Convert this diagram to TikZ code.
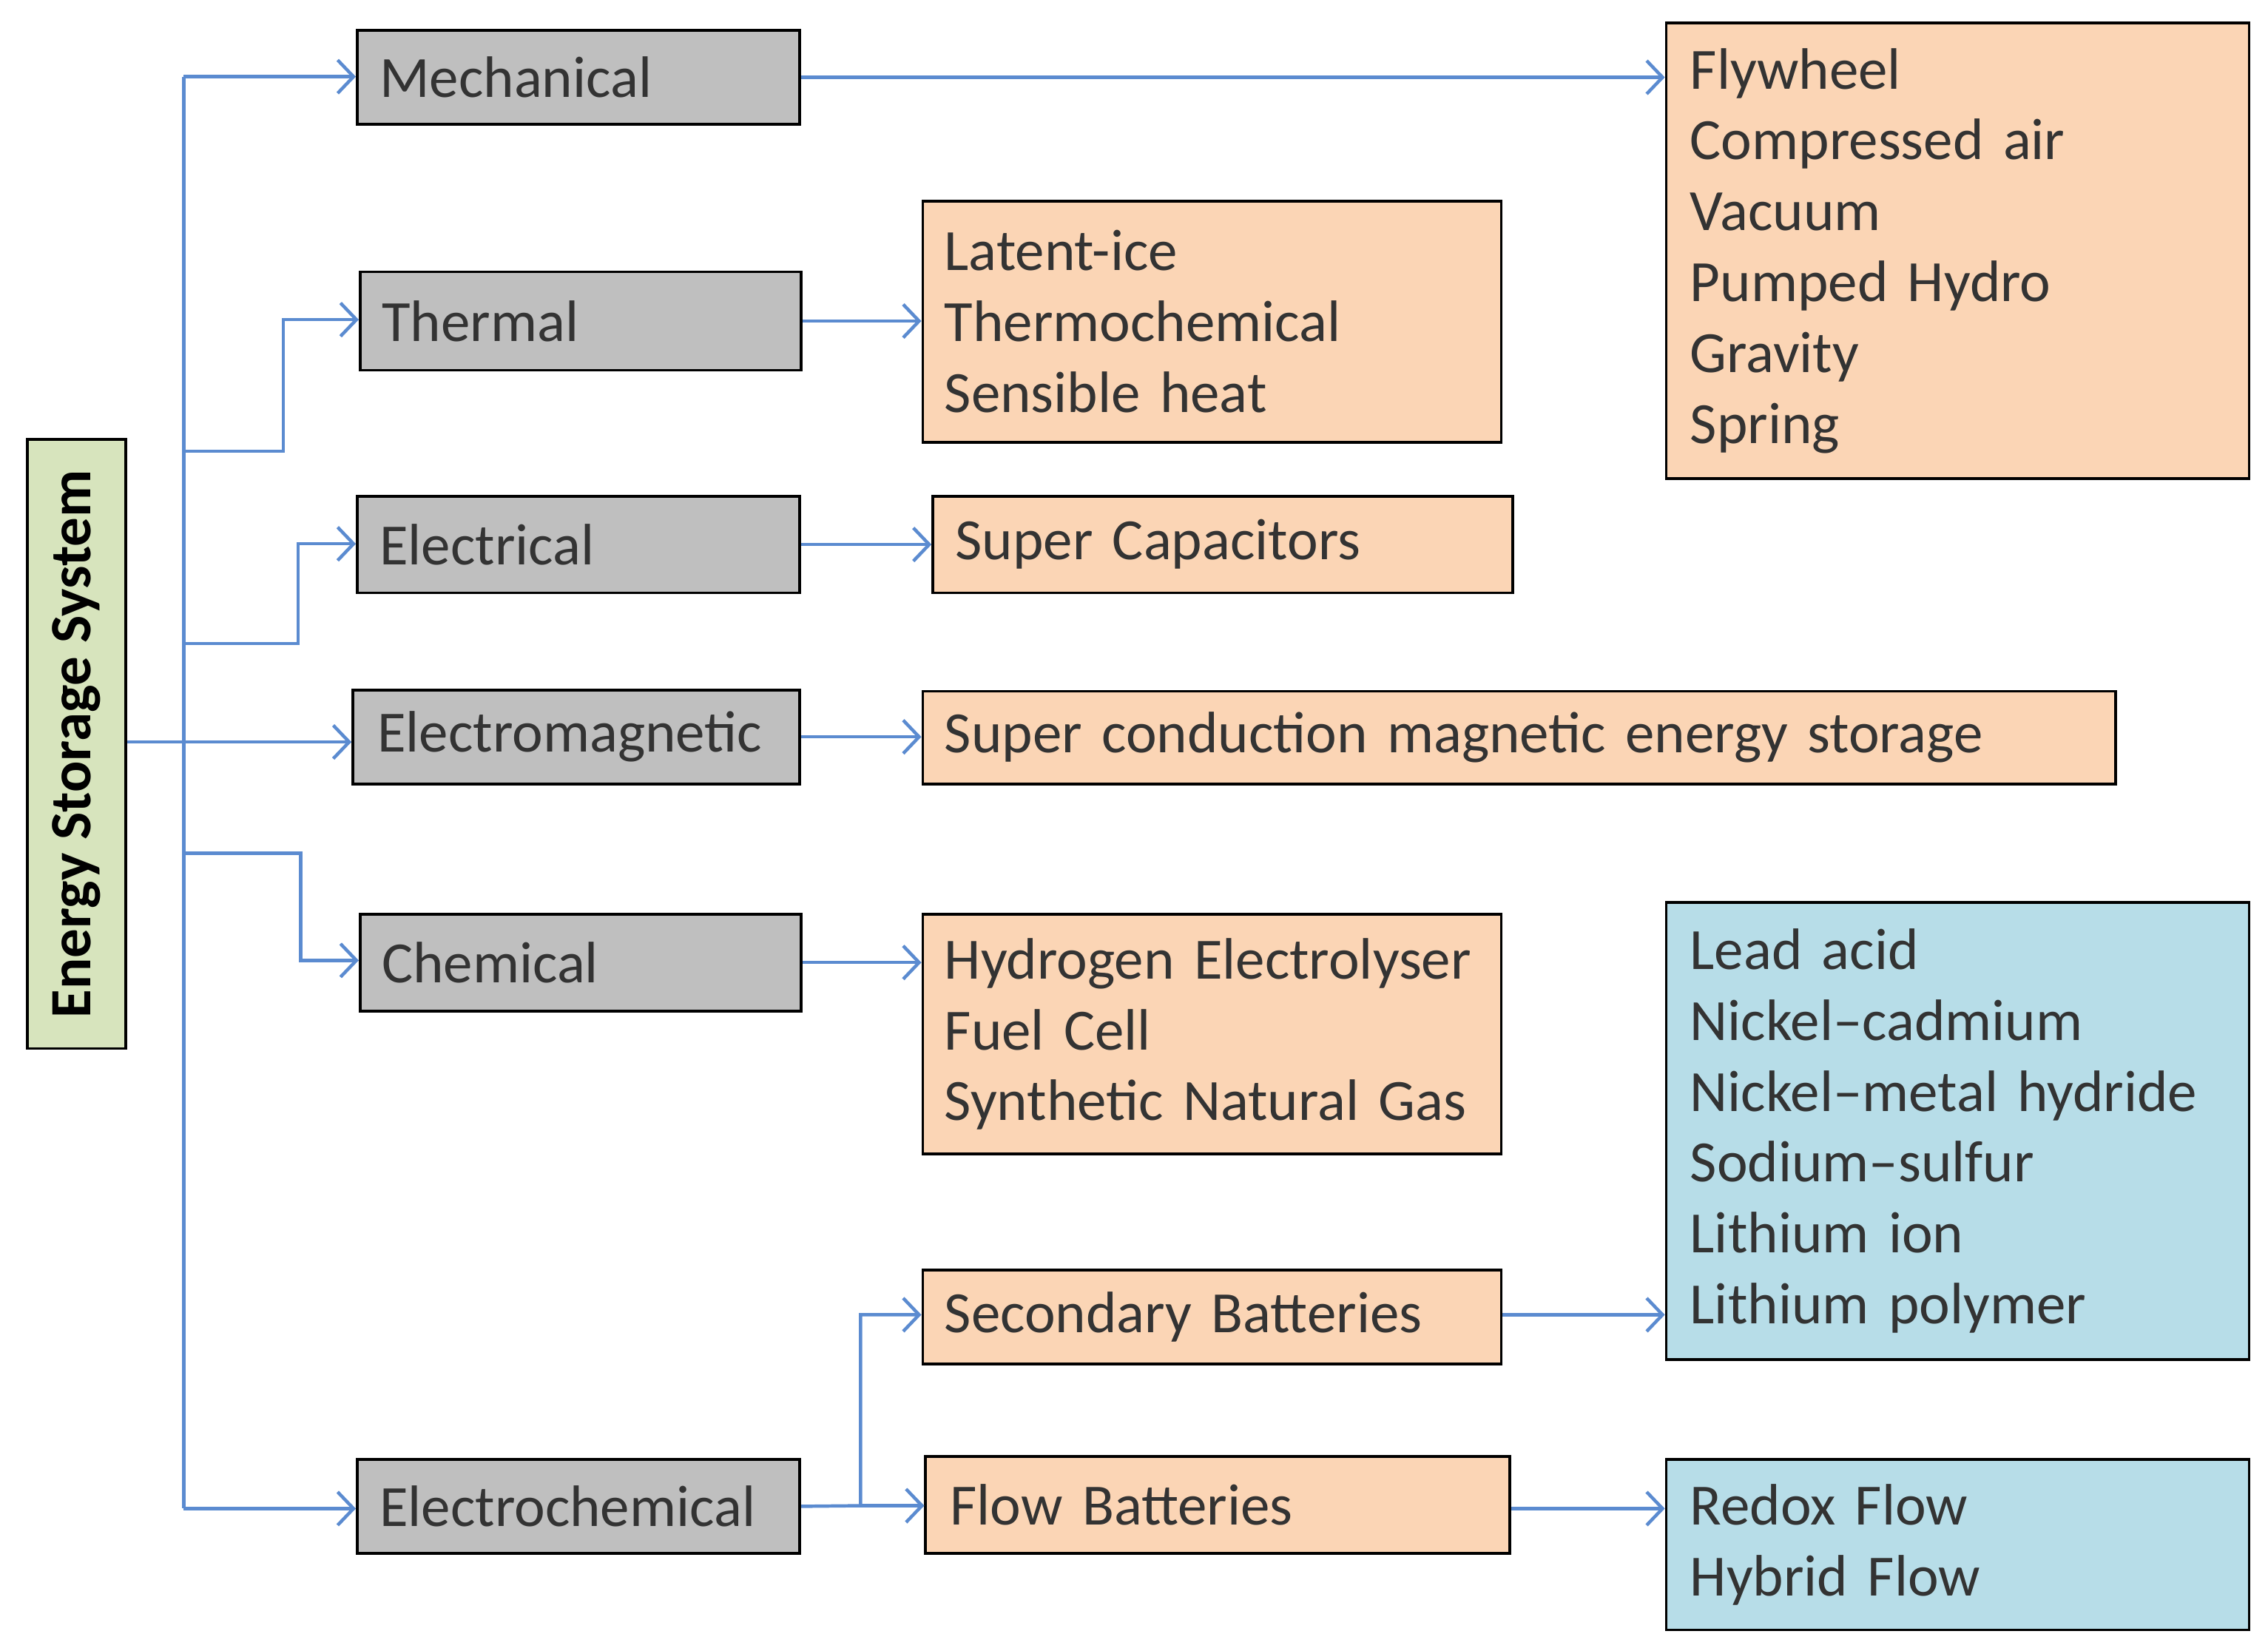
\documentclass[tikz,border=0pt]{standalone}
\usepackage{fontspec}
\setmainfont{Carlito}
\usetikzlibrary{calc,arrows.meta}
\definecolor{boxgray}{HTML}{BFBFBF}
\definecolor{boxorange}{HTML}{FBD5B5}
\definecolor{boxblue}{HTML}{B7DDE8}
\definecolor{boxgreen}{HTML}{D7E4BD}
\definecolor{linkblue}{HTML}{5B8BD0}
\definecolor{txt}{HTML}{333333}
\tikzset{
	box/.style={draw=black, line width=1.1pt, anchor=north west, inner xsep=0.3cm, inner ysep=0pt,
		align=left, text=txt, font=\fontsize{23}{27.9}\selectfont},
	link/.style={draw=linkblue, line width=1.3pt, -{Straight Barb[length=2.2mm,width=4.6mm]}}
}
\begin{document}
\hyphenpenalty=10000\relax
\begin{tikzpicture}[x=0.02cm,y=-0.02cm]

	% frame
	\useasboundingbox (0,0) rectangle (1568,1141);

	% root
	\node[box, fill=boxgreen, minimum width=1.36cm, minimum height=8.42cm, inner xsep=0pt] (ess) at (18,303) {};
	\node[rotate=90, font=\fontsize{23}{27.9}\selectfont\bfseries, text=black] (esslabel) at (ess.center) {Energy Storage System};

	% categories
	\node[box, fill=boxgray, minimum width=6.12cm, minimum height=1.30cm, text width=5.5cm] (mech) at (246,20) {Mechanical};
	\node[box, fill=boxgray, minimum width=6.08cm, minimum height=1.36cm, text width=5.5cm] (therm) at (248,187) {Thermal};
	\node[box, fill=boxgray, minimum width=6.12cm, minimum height=1.34cm, text width=5.5cm] (elec) at (246,342) {Electrical};
	\node[box, fill=boxgray, minimum width=6.18cm, minimum height=1.30cm, text width=5.5cm] (emag) at (243,476) {Electromagnetic};
	\node[box, fill=boxgray, minimum width=6.08cm, minimum height=1.34cm, text width=5.5cm] (chem) at (248,631) {Chemical};
	\node[box, fill=boxgray, minimum width=6.12cm, minimum height=1.30cm, text width=5.5cm] (echem) at (246,1008) {Electrochemical};

	% technologies
	\node[box, fill=boxorange, minimum width=8.06cm, minimum height=6.30cm, text width=7.4cm] (mechlist) at (1151,15)
		{Flywheel\\Compressed air\\Vacuum\\Pumped Hydro\\Gravity\\Spring};
	\node[box, fill=boxorange, minimum width=8.00cm, minimum height=3.34cm, text width=7.4cm] (thermlist) at (637,138)
		{Latent-ice\\Thermochemical\\Sensible heat};
	\node[box, fill=boxorange, minimum width=8.02cm, minimum height=1.34cm, text width=7.4cm] (supcap) at (644,342) {Super Capacitors};
	\node[box, fill=boxorange, minimum width=16.50cm, minimum height=1.28cm, text width=15.9cm] (smes) at (637,477) {Super conduction magnetic energy storage};
	\node[box, fill=boxorange, minimum width=8.00cm, minimum height=3.32cm, text width=7.4cm] (chemlist) at (637,631)
		{Hydrogen Electrolyser\\Fuel Cell\\Synthetic Natural Gas};
	\node[box, fill=boxorange, minimum width=8.00cm, minimum height=1.30cm, text width=7.4cm] (second) at (637,877) {Secondary Batteries};
	\node[box, fill=boxorange, minimum width=8.08cm, minimum height=1.34cm, text width=7.4cm] (flow) at (639,1006) {Flow Batteries};

	% battery types
	\node[box, fill=boxblue, minimum width=8.06cm, minimum height=6.32cm, text width=7.4cm] (secondlist) at (1151,623)
		{Lead acid\\Nickel--cadmium\\Nickel--metal hydride\\Sodium--sulfur\\Lithium ion\\Lithium polymer};
	\node[box, fill=boxblue, minimum width=8.06cm, minimum height=2.36cm, text width=7.4cm] (flowlist) at (1151,1008)
		{Redox Flow\\Hybrid Flow};

	% trunk
	\coordinate (trunk) at (127,513);
	\draw[draw=linkblue, line width=1.3pt] (ess.east |- trunk) -- (trunk);
	\draw[draw=linkblue, line width=1.3pt] (127,53) -- (127,1043);

	% branches
	\draw[link] (127,53) -- (mech.west |- 0,53);
	\draw[link] (127,312) -- (196,312) -- (196,221) -- (therm.west |- 0,221);
	\draw[link] (127,445) -- (206,445) -- (206,376) -- (elec.west |- 0,376);
	\draw[link] (trunk) -- (emag.west |- trunk);
	\draw[link] (127,590) -- (208,590) -- (208,664) -- (chem.west |- 0,664);
	\draw[link] (127,1043) -- (echem.west |- 0,1043);

	% category to technology
	\draw[link] (mech.east) -- (mech.east -| mechlist.west);
	\draw[link] (therm.east) -- (therm.east -| thermlist.west);
	\draw[link] (elec.east) -- (elec.east -| supcap.west);
	\draw[link] (emag.east) -- (emag.east -| smes.west);
	\draw[link] (chem.east) -- (chem.east -| chemlist.west);
	\draw[link] (echem.east) -- (595,1041) -- (595,909) -- (second.west |- 0,909);
	\draw[link] (595,1041) -- (flow.west |- 0,1041);

	% batteries
	\draw[link] (second.east |- 0,909) -- (secondlist.west |- 0,909);
	\draw[link] (flow.east |- 0,1043) -- (flowlist.west |- 0,1043);

\end{tikzpicture}
\end{document}
